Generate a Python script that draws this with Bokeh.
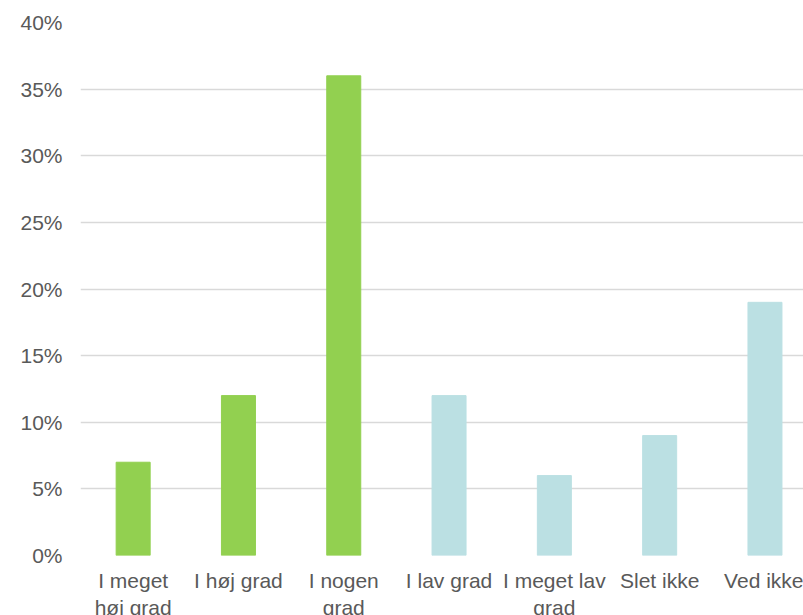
from bokeh.plotting import figure
from bokeh.models import Range1d, FixedTicker, NumeralTickFormatter, ColumnDataSource
from bokeh.embed import file_html
from bokeh.resources import INLINE

# ---- data ----
categories = ["I meget høj grad", "I høj grad", "I nogen grad", "I lav grad",
              "I meget lav grad", "Slet ikke", "Ved ikke"]
tick_labels = ["I meget\nhøj grad", "I høj grad", "I nogen\ngrad", "I lav grad",
               "I meget lav\ngrad", "Slet ikke", "Ved ikke"]
values = [0.07, 0.12, 0.36, 0.12, 0.06, 0.09, 0.19]
groups = ["high", "high", "high", "low", "low", "low", "low"]
y_ticks = [0.0, 0.05, 0.10, 0.15, 0.20, 0.25, 0.30, 0.35, 0.40]

group_colors = {"high": "#92D050", "low": "#BBE0E3"}

xs = [i + 0.5 for i in range(len(categories))]
src = ColumnDataSource(dict(
    x=xs,
    top=values,
    cat=categories,
    color=[group_colors[g] for g in groups],
))

p = figure(width=803, height=622, output_backend="svg", toolbar_location=None,
           x_range=Range1d(0, 6.866), y_range=Range1d(0, 0.40),
           min_border_left=80, min_border_right=0, min_border_top=22,
           min_border_bottom=60)
p.outline_line_color = None
p.background_fill_color = "white"
p.border_fill_color = "white"

p.vbar(x="x", top="top", width=0.323, fill_color="color", line_color="color", source=src)

text_color = "#595959"
font = "Liberation Sans"

# y axis
p.yaxis.ticker = FixedTicker(ticks=y_ticks)
p.yaxis.formatter = NumeralTickFormatter(format="0%")
p.yaxis.axis_line_color = None
p.yaxis.major_tick_line_color = None
p.yaxis.minor_tick_line_color = None
p.yaxis.major_tick_out = 0
p.yaxis.major_tick_in = 0
p.yaxis.major_label_standoff = 18
p.yaxis.major_label_text_font = font
p.yaxis.major_label_text_font_size = "21px"
p.yaxis.major_label_text_color = text_color

# x axis
p.xaxis.ticker = FixedTicker(ticks=xs)
p.xaxis.major_label_overrides = {x: lab for x, lab in zip(xs, tick_labels)}
p.xaxis.axis_line_color = None
p.xaxis.major_tick_line_color = None
p.xaxis.minor_tick_line_color = None
p.xaxis.major_tick_out = 0
p.xaxis.major_tick_in = 0
p.xaxis.major_label_standoff = 13
p.xaxis.major_label_text_font = font
p.xaxis.major_label_text_font_size = "21px"
p.xaxis.major_label_text_color = text_color

# grid
p.xgrid.grid_line_color = None
p.ygrid.ticker = FixedTicker(ticks=y_ticks)
p.ygrid.grid_line_color = "#D9D9D9"
p.ygrid.grid_line_width = 1.5

open("out.html", "w").write(file_html(p, INLINE))
